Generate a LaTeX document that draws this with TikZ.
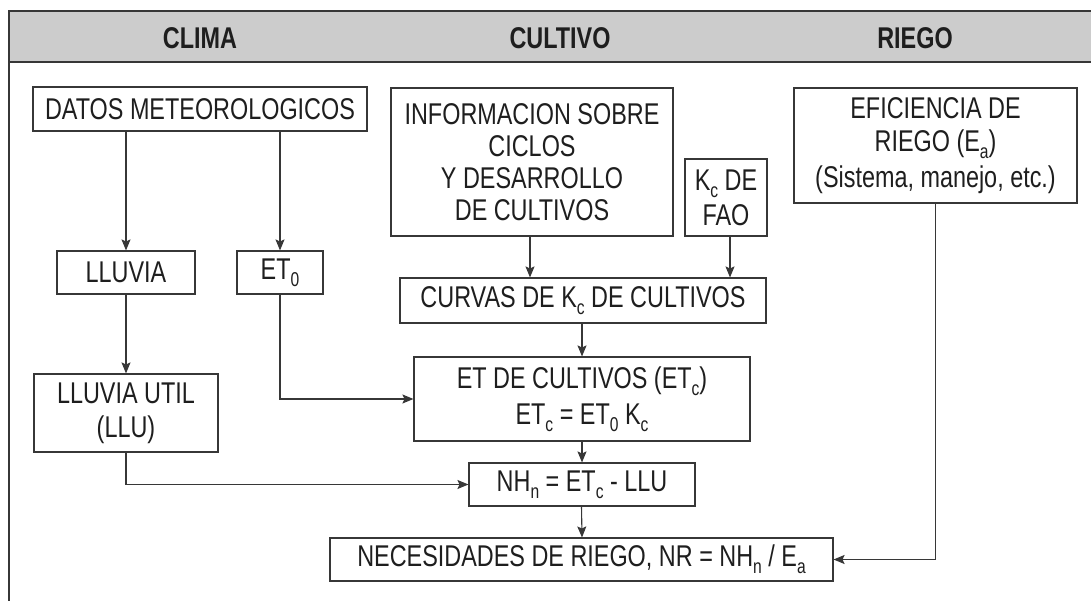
\documentclass[tikz,border=0pt]{standalone}
\usepackage{fontspec}
\setmainfont{Liberation Sans}[FakeStretch=0.78]
\usetikzlibrary{arrows.meta}
\definecolor{headgray}{RGB}{204,204,204}
\definecolor{linec}{RGB}{55,55,55}
\definecolor{textc}{RGB}{30,30,30}
\newcommand\subt[1]{\raisebox{-0.24em}{\fontsize{20}{20}\selectfont #1}}
\tikzset{
  box/.style={draw=linec, line width=1.1pt, inner sep=0pt, align=center,
    text=textc, font=\fontsize{30}{32}\selectfont},
  head/.style={text=textc, font=\fontsize{30}{32}\selectfont\bfseries},
  conn/.style={draw=linec, line width=1.1pt, -{Stealth[length=11pt,width=9pt,inset=2pt]}},
  frame/.style={draw=linec, line width=1.3pt}
}
\begin{document}
\begin{tikzpicture}[x=1pt,y=-1pt]
\useasboundingbox (0,0) rectangle (1091,601);
\fill[headgray] (9,11) rectangle (1091,62);
\draw[frame] (9,601) -- (9,11) -- (1091,11);
\draw[frame] (9,62) -- (1091,62);
\node[head] (hclima) at (200,38) {CLIMA};
\node[head] (hcult) at (560,38) {CULTIVO};
\node[head] (hriego) at (915,38) {RIEGO};

\node[box, minimum width=334pt, minimum height=44pt] (datos) at (200,109) {DATOS METEOROLOGICOS};
\node[box, minimum width=282pt, minimum height=148pt] (info) at (532,162) {INFORMACION SOBRE\\CICLOS\\Y DESARROLLO\\DE CULTIVOS};
\node[box, minimum width=82pt, minimum height=77pt] (kc) at (726,197.5) {K\subt{c} DE\\[3pt]FAO};
\node[box, minimum width=283pt, minimum height=115pt] (efic) at (935.5,145.5) {EFICIENCIA DE\\[1pt]RIEGO (E\subt{a})\\[4pt](Sistema, manejo, etc.)};
\node[box, minimum width=138pt, minimum height=43pt] (lluvia) at (126,272.5) {LLUVIA};
\node[box, minimum width=86pt, minimum height=43pt] (et0) at (280,272.5) {ET\subt{0}};
\node[box, minimum width=366pt, minimum height=45pt] (curvas) at (583,300.5) {CURVAS DE K\subt{c} DE CULTIVOS};
\node[box, minimum width=336pt, minimum height=84pt] (etc) at (582,399) {ET DE CULTIVOS (ET\subt{c})\\[4pt]ET\subt{c} = ET\subt{0} K\subt{c}};
\node[box, minimum width=184pt, minimum height=78pt] (llu) at (126,413) {LLUVIA UTIL\\[2pt](LLU)};
\node[box, minimum width=226pt, minimum height=43pt] (nhn) at (582,484.5) {NH\subt{n} = ET\subt{c} - LLU};
\node[box, minimum width=503pt, minimum height=43pt] (nr) at (581.5,559.5) {NECESIDADES DE RIEGO, NR = NH\subt{n} / E\subt{a}};

\draw[conn] (datos.south -| lluvia.north) -- (lluvia.north);
\draw[conn] (datos.south -| et0.north) -- (et0.north);
\coordinate (infox) at (530,236);
\draw[conn] (info.south -| infox) -- (curvas.north -| infox);
\coordinate (kcx) at (730,236);
\draw[conn] (kc.south -| kcx) -- (curvas.north -| kcx);
\draw[conn] (curvas.south -| etc.north) -- (etc.north);
\draw[conn] (et0.south) |- (etc.west);
\draw[conn] (lluvia.south) -- (llu.north);
\draw[conn] (llu.south) |- (nhn.west);
\draw[conn] (etc.south -| nhn.north) -- (nhn.north);
\draw[conn] (nhn.south -| nr.north) -- (nr.north -| nhn.north);
\draw[conn] (efic.south) |- (nr.east);
\end{tikzpicture}
\end{document}
